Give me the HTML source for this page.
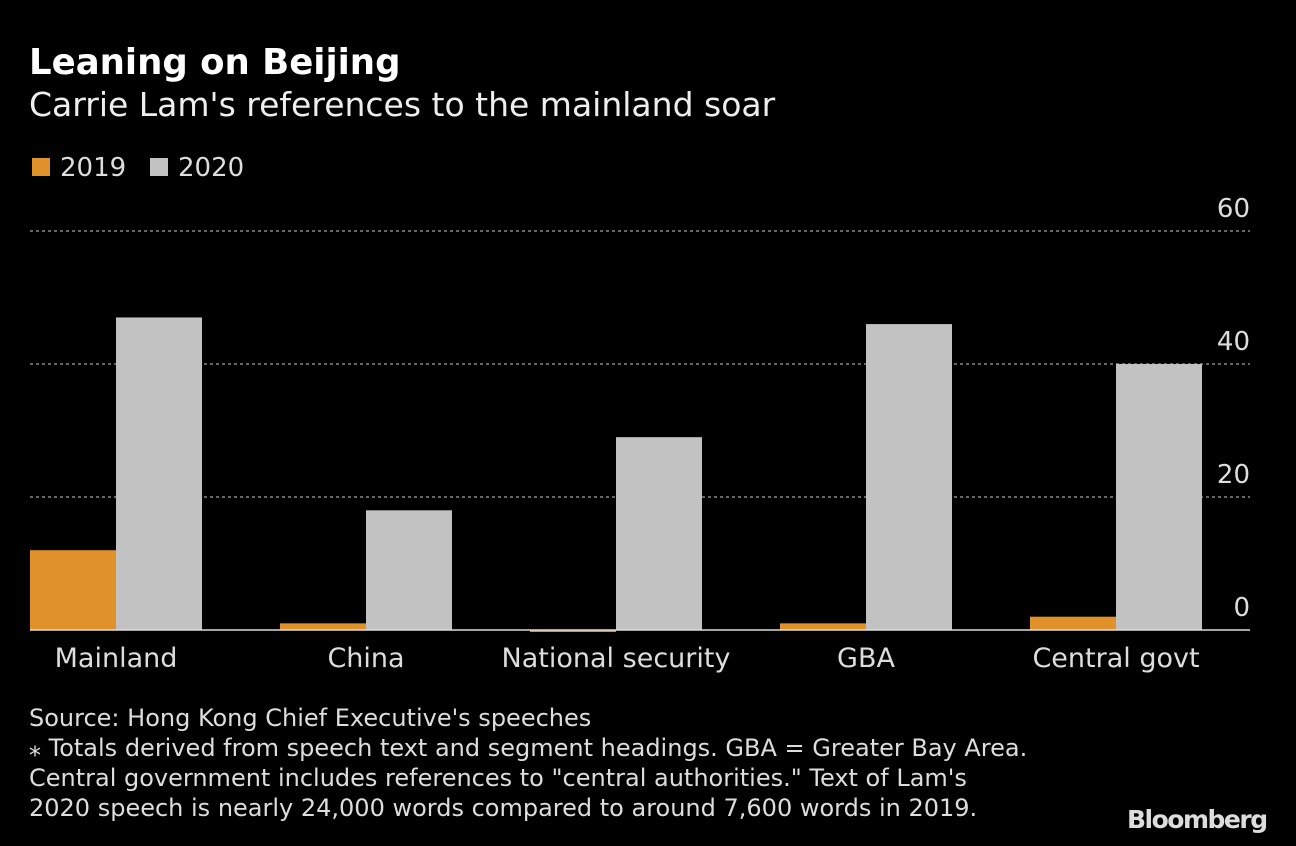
<!DOCTYPE html>
<html><head><meta charset="utf-8"><style>
body{margin:0;background:#000;width:1296px;height:846px;overflow:hidden;font-family:"DejaVu Sans",sans-serif;color:#fff}
.t{position:absolute;white-space:nowrap}
</style></head><body>
<div class="t" style="left:29px;top:42px;font-size:35.5px;font-weight:bold">Leaning on Beijing</div>
<div class="t" style="left:29px;top:85px;font-size:33px;color:#eee">Carrie Lam's references to the mainland soar</div>
<div class="t" style="left:32px;top:153px;font-size:26px;color:#ddd"><span style="display:inline-block;width:18px;height:18px;background:#e0912a;margin-right:10px"></span>2019</div>
<div class="t" style="left:150px;top:153px;font-size:26px;color:#ddd"><span style="display:inline-block;width:18px;height:18px;background:#c2c2c2;margin-right:10px"></span>2020</div>
<svg id="c" width="1296" height="846" style="position:absolute;left:0;top:0"></svg>
<div class="t" style="left:29px;top:703px;font-size:24px;line-height:30px;color:#ddd">Source: Hong Kong Chief Executive's speeches<br>⁎ Totals derived from speech text and segment headings. GBA = Greater Bay Area.<br>Central government includes references to "central authorities." Text of Lam's<br>2020 speech is nearly 24,000 words compared to around 7,600 words in 2019.</div>
<div class="t" style="left:1127px;top:805px;font-size:25px;font-weight:bold;color:#ddd;letter-spacing:-1.5px">Bloomberg</div>
<script>
const categories=["Mainland","China","National security","GBA","Central govt"];
const values2019=[12,1,0,1,2];
const values2020=[47,18,29,46,40];
const ticks=[0,20,40,60];
const NS="http://www.w3.org/2000/svg";
const svg=document.getElementById('c');
const y0=630,pxPer=6.65,left=30,right=1250,step=250,bw=86;
const y=v=>y0-v*pxPer;
function mk(t,a){const e=document.createElementNS(NS,t);for(const k in a)e.setAttribute(k,a[k]);svg.appendChild(e);return e;}
ticks.forEach(t=>{
 if(t>0){const l=mk('line',{x1:left,x2:right,y1:y(t),y2:y(t),stroke:'#888','stroke-dasharray':'3,3','stroke-width':1.5});
 
 }
 const tx=mk('text',{x:right,y:y(t)-14,'text-anchor':'end','font-size':26,fill:'#ddd','font-family':'DejaVu Sans, sans-serif'});
 tx.textContent=t;
 
 
});
categories.forEach((c,i)=>{
 const gx=left+i*step;
 const v1=values2019[i],v2=values2020[i];
 const r1=mk('rect',{x:gx,y:v1>0?y(v1):y0,width:bw,height:v1>0?v1*pxPer:2,fill:'#e0912a'});
 
 
 const r2=mk('rect',{x:gx+bw,y:y(v2),width:bw,height:v2*pxPer,fill:'#c2c2c2'});
 
 
 const tx=mk('text',{x:gx+bw,y:667,'text-anchor':'middle','font-size':27,fill:'#ddd','font-family':'DejaVu Sans, sans-serif'});
 tx.textContent=c;
 
 
});
const base=mk('line',{x1:left,x2:right,y1:y0,y2:y0,stroke:'#ddd','stroke-width':1.5});


</script>
</body></html>
